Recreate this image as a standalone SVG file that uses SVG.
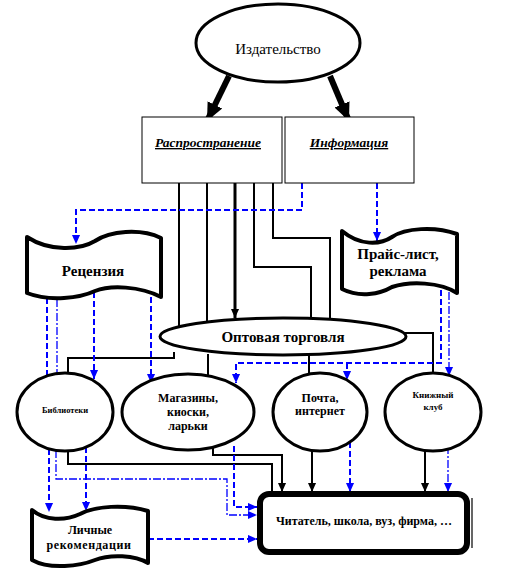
<svg xmlns="http://www.w3.org/2000/svg" width="509" height="579" viewBox="0 0 509 579" font-family="Liberation Serif, DejaVu Serif, serif">
<style>
text{fill:#000;text-anchor:middle;font-weight:bold}
.el{fill:#fff;stroke:#000;stroke-width:3}
.bn{fill:#fff;stroke:#000;stroke-width:4;stroke-linejoin:round}
.k{fill:none;stroke:#000;stroke-width:2}
.d{fill:none;stroke:#0000ff;stroke-width:2;stroke-dasharray:6 3}
.dd{fill:none;stroke:#0000ff;stroke-width:1.3;stroke-dasharray:8 2 2 2}
</style>
<defs>
<marker id="ak" viewBox="0 0 10 10" refX="10" refY="5" markerWidth="9" markerHeight="9" markerUnits="userSpaceOnUse" orient="auto"><path d="M0,0.5 L10,5 L0,9.5 z" fill="#000"/></marker>
<marker id="ab" viewBox="0 0 10 10" refX="10" refY="5" markerWidth="9" markerHeight="9" markerUnits="userSpaceOnUse" orient="auto"><path d="M0,0.5 L10,5 L0,9.5 z" fill="#0000ff"/></marker>
<marker id="at" viewBox="0 0 10 10" refX="10" refY="5" markerWidth="18" markerHeight="18" markerUnits="userSpaceOnUse" orient="auto"><path d="M0,0.5 L10,5 L0,9.5 z" fill="#000"/></marker>
</defs>

<g id="connectors">
<line x1="229" y1="76" x2="207" y2="121" stroke="#000" stroke-width="6" marker-end="url(#at)"/>
<line x1="330" y1="76" x2="349" y2="121" stroke="#000" stroke-width="6" marker-end="url(#at)"/>
<path class="k" d="M179,183 V326"/>
<path class="k" d="M207,183 V322"/>
<path d="M235,183 V318" fill="none" stroke="#000" stroke-width="3" marker-end="url(#ak)"/>
<path class="k" d="M254,183 V267 H311 V319"/>
<path class="k" d="M273,183 V238 H330 V320"/>
<path class="k" d="M174,352 V358 H68 V374"/>
<path class="k" d="M208,354 V375"/>
<path class="k" d="M309,355 V373"/>
<path class="k" d="M405,333 H433 V373"/>
<path class="k" d="M68,451 V464 H272 V492"/>
<path class="k" d="M213,448 V455 H282 V492" marker-end="url(#ak)"/>
<path class="k" d="M312,451 V492" marker-end="url(#ak)"/>
<path class="k" d="M425,451 V492" marker-end="url(#ak)"/>
<path class="d" d="M302,183 V210 H76 V244" marker-end="url(#ab)"/>
<path class="d" d="M377,183 V241" marker-end="url(#ab)"/>
<path class="d" d="M47,298 V376"/>
<path class="dd" d="M57,299 V374"/>
<path class="d" d="M94,292 V379" marker-end="url(#ab)"/>
<path class="d" d="M151,288 V383" marker-end="url(#ab)"/>
<path class="d" d="M441,290 V363 H236 V383" marker-end="url(#ab)"/>
<path class="d" d="M347,363 V380" marker-end="url(#ab)"/>
<path class="dd" d="M449,292 V376" marker-end="url(#ab)"/>
<path class="d" d="M49,449 V512" marker-end="url(#ab)"/>
<path class="d" d="M86,447 V511" marker-end="url(#ab)"/>
<path class="dd" d="M56,450 V479 H227 V515 H257" marker-end="url(#ab)"/>
<path class="d" d="M234,446 V507 H257" marker-end="url(#ab)"/>
<path class="d" d="M148,539 H257" marker-end="url(#ab)"/>
<path class="d" d="M350,442 V492" marker-end="url(#ab)"/>
<path class="dd" d="M448,446 V492" marker-end="url(#ab)"/>
</g>

<g id="publisher">
<ellipse class="el" cx="278" cy="43" rx="82" ry="39"/>
<text x="278" y="54" font-size="15" style="font-weight:normal">Издательство</text>
</g>

<g id="distribution">
<rect x="142" y="117" width="140" height="66" fill="#fff" stroke="#000" stroke-width="1"/>
<text x="208" y="147" font-size="13.5" font-style="italic" text-decoration="underline">Распространение</text>
</g>

<g id="information">
<rect x="285" y="117" width="129" height="66" fill="#fff" stroke="#000" stroke-width="1"/>
<text x="349" y="147" font-size="13.5" font-style="italic" text-decoration="underline">Информация</text>
</g>

<g id="review">
<path class="bn" d="M27,237 C50,252 80,250 95,241 C110,231 140,228 161,238 L161,297 C140,286 110,285 95,291 C80,298 50,302 27,293 Z"/>
<text x="93" y="276" font-size="15">Рецензия</text>
</g>

<g id="pricelist">
<path class="bn" d="M342,231 C360,246 380,245 392,237 C405,228 435,226 457,234 L457,293 C440,282 410,281 392,287 C380,294 360,298 342,289 Z"/>
<text x="398" y="259" font-size="15">Прайс-лист,</text>
<text x="398" y="276" font-size="15">реклама</text>
</g>

<g id="wholesale">
<ellipse class="el" cx="283" cy="336.5" rx="123" ry="18.5"/>
<text x="283" y="342" font-size="15">Оптовая торговля</text>
</g>

<g id="libraries">
<ellipse class="el" cx="65" cy="412" rx="48" ry="39"/>
<text x="65" y="413" font-size="8.5">Библиотеки</text>
</g>

<g id="shops">
<ellipse class="el" cx="188" cy="412" rx="66" ry="38"/>
<text x="188" y="402" font-size="12">Магазины,</text>
<text x="188" y="416" font-size="12">киоски,</text>
<text x="188" y="430" font-size="12">ларьки</text>
</g>

<g id="mail">
<ellipse class="el" cx="320" cy="412" rx="47" ry="39"/>
<text x="320" y="402" font-size="12">Почта,</text>
<text x="320" y="415" font-size="12">интернет</text>
</g>

<g id="bookclub">
<ellipse class="el" cx="433" cy="412" rx="48" ry="39"/>
<text x="433" y="398" font-size="9">Книжный</text>
<text x="433" y="410" font-size="9">клуб</text>
</g>

<g id="recommendations">
<path class="bn" d="M32,510 C45,521 65,521 80,514 C95,506 125,504 148,511 L148,563 C135,555 110,554 95,560 C80,566 50,570 32,560 Z"/>
<text x="90" y="534" font-size="12">Личные</text>
<text x="89" y="549" font-size="12" letter-spacing="0.6">рекомендации</text>
</g>

<g id="reader">
<rect x="260" y="494" width="207" height="58" rx="9" fill="#fff" stroke="#000" stroke-width="6"/>
<line x1="472" y1="498" x2="472" y2="548" stroke="#000" stroke-width="1.2"/>
<text x="364" y="525" font-size="12">Читатель, школа, вуз, фирма, …</text>
</g>
</svg>
